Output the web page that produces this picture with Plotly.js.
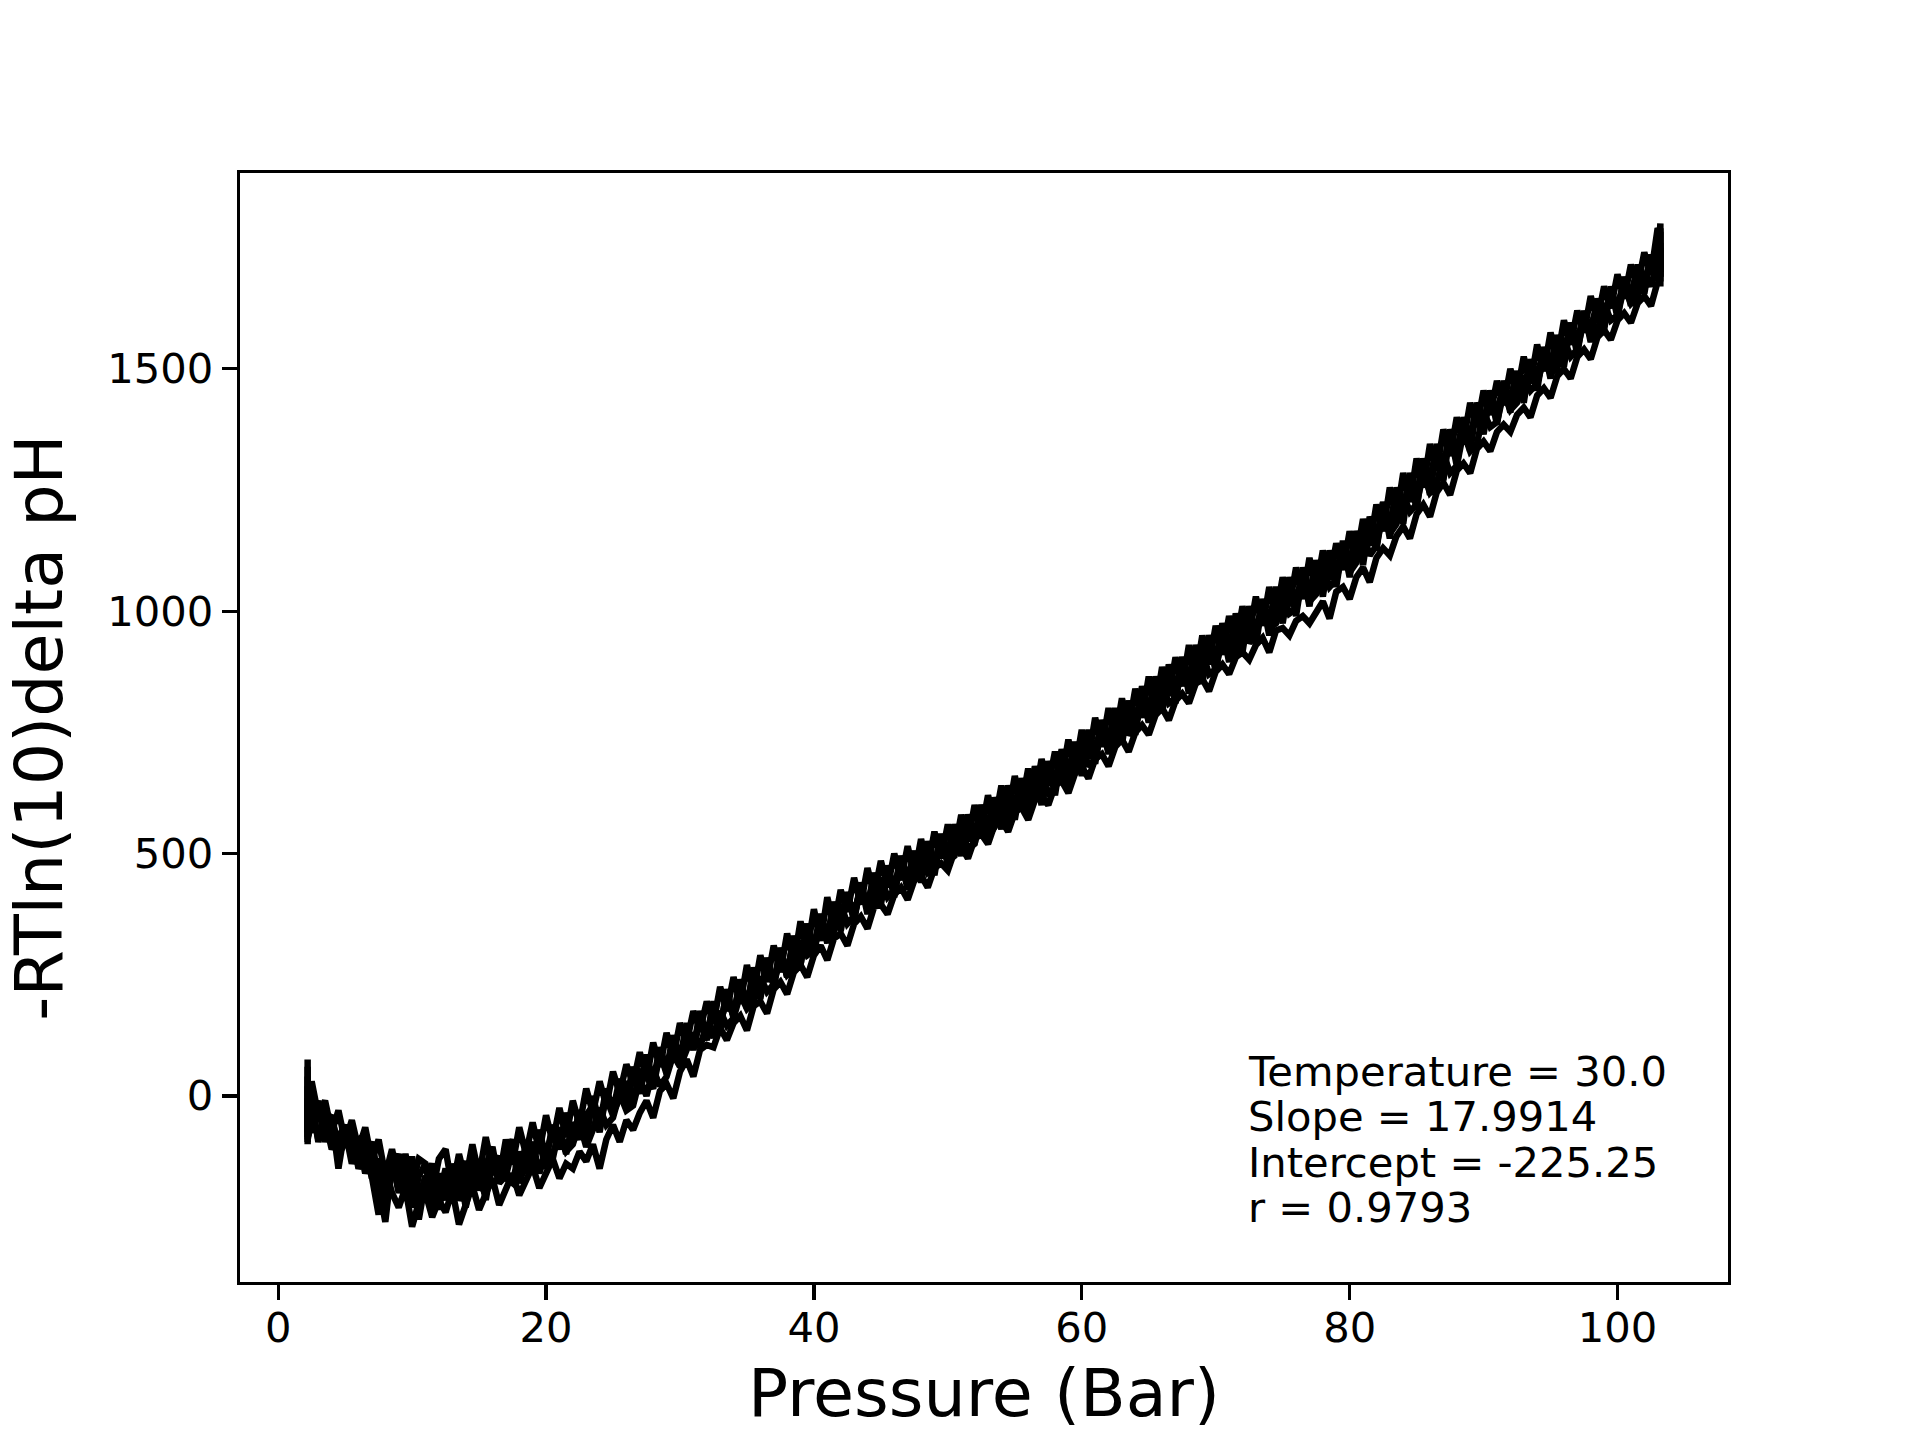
<!DOCTYPE html>
<html>
<head>
<meta charset="utf-8">
<script src="https://cdn.plot.ly/plotly-3.0.1.min.js"></script>
<style>
  html, body { margin: 0; padding: 0; background: #fff; }
  #chart { width: 1920px; height: 1440px; }
</style>
</head>
<body>
<div id="chart"></div>
<script>
// pressure readings shared by every run (Bar)
const pressure = [
  2.2, 2.2, 2.2,
  2.5, 3, 3.5, 4, 4.5, 5, 5.5, 6, 6.5, 7,
  7.5, 8, 8.5, 9, 9.5, 10, 10.5, 11, 11.5, 12,
  12.5, 13, 13.5, 14, 14.5, 15, 15.5, 16, 16.5, 17,
  17.5, 18, 18.5, 19, 19.5, 20, 20.5, 21, 21.5, 22,
  22.5, 23, 23.5, 24, 24.5, 25, 25.5, 26, 26.5, 27,
  27.5, 28, 28.5, 29, 29.5, 30, 30.5, 31, 31.5, 32,
  32.5, 33, 33.5, 34, 34.5, 35, 35.5, 36, 36.5, 37,
  37.5, 38, 38.5, 39, 39.5, 40, 40.5, 41, 41.5, 42,
  42.5, 43, 43.5, 44, 44.5, 45, 45.5, 46, 46.5, 47,
  47.5, 48, 48.5, 49, 49.5, 50, 50.5, 51, 51.5, 52,
  52.5, 53, 53.5, 54, 54.5, 55, 55.5, 56, 56.5, 57,
  57.5, 58, 58.5, 59, 59.5, 60, 60.5, 61, 61.5, 62,
  62.5, 63, 63.5, 64, 64.5, 65, 65.5, 66, 66.5, 67,
  67.5, 68, 68.5, 69, 69.5, 70, 70.5, 71, 71.5, 72,
  72.5, 73, 73.5, 74, 74.5, 75, 75.5, 76, 76.5, 77,
  77.5, 78, 78.5, 79, 79.5, 80, 80.5, 81, 81.5, 82,
  82.5, 83, 83.5, 84, 84.5, 85, 85.5, 86, 86.5, 87,
  87.5, 88, 88.5, 89, 89.5, 90, 90.5, 91, 91.5, 92,
  92.5, 93, 93.5, 94, 94.5, 95, 95.5, 96, 96.5, 97,
  97.5, 98, 98.5, 99, 99.5, 100, 100.5, 101, 101.5, 102,
  102.5, 103,
  103.2, 103.2
];

// -RT ln(10) delta pH, one array per run
const run1 = [
  75, -40, -85,
  -60, -20, -95, -40, -110, -70, -140, -95, -105, -170,
  -130, -215, -150, -120, -200, -160, -255, -175, -140, -210,
  -150, -220, -170, -135, -205, -150, -190, -120, -170, -135,
  -95, -160, -110, -145, -80, -125, -70, -110, -50, -95,
  -30, -80, -10, -55, -5, -40, 20, -25, 45, 5,
  70, 25, 90, 45, 120, 75, 140, 95, 165, 120,
  190, 140, 215, 165, 240, 185, 260, 205, 280, 230,
  305, 245, 330, 270, 355, 300, 375, 320, 400, 345,
  420, 365, 440, 390, 460, 410, 475, 425, 495, 445,
  505, 460, 525, 475, 540, 490, 560, 505, 580, 530,
  600, 545, 615, 565, 640, 585, 655, 600, 680, 625,
  690, 640, 715, 660, 730, 680, 755, 700, 775, 725,
  800, 740, 815, 765, 845, 790, 865, 810, 890, 835,
  905, 855, 930, 880, 950, 895, 975, 915, 995, 940,
  1010, 950, 1025, 975, 1050, 995, 1070, 1010, 1090, 1030,
  1105, 1050, 1125, 1065, 1145, 1085, 1165, 1110, 1195, 1140,
  1225, 1165, 1255, 1200, 1285, 1230, 1315, 1260, 1345, 1290,
  1375, 1320, 1400, 1350, 1430, 1385, 1455, 1400, 1475, 1425,
  1495, 1440, 1515, 1470, 1540, 1495, 1565, 1520, 1595, 1545,
  1615, 1570, 1640, 1595, 1665, 1620, 1685, 1645, 1705, 1665,
  1735, 1700,
  1800, 1700
];
const run2 = [
  20, -95, -50,
  -75, -30, -50, -110, -85, -60, -130, -100, -90, -160,
  -245, -150, -130, -195, -175, -140, -210, -165, -230, -180,
  -200, -160, -215, -190, -150, -175, -205, -145, -125, -170,
  -180, -115, -160, -135, -95, -150, -120, -80, -115, -100,
  -55, -105, -70, -25, -60, -45, 5, -30, -20, 35,
  0, 55, 20, 40, 85, 60, 95, 130, 100, 150,
  120, 175, 145, 160, 210, 180, 195, 245, 215, 230,
  285, 250, 265, 320, 290, 300, 360, 325, 340, 395,
  355, 370, 425, 390, 400, 450, 410, 425, 475, 440,
  445, 500, 460, 470, 525, 485, 495, 555, 510, 520,
  580, 535, 555, 610, 570, 585, 640, 600, 610, 665,
  625, 635, 695, 650, 665, 725, 680, 695, 755, 710,
  725, 790, 745, 760, 820, 775, 790, 850, 810, 820,
  885, 840, 855, 915, 870, 880, 945, 905, 915, 980,
  935, 950, 1005, 965, 975, 1035, 995, 1005, 1065, 1020,
  1035, 1090, 1050, 1065, 1120, 1080, 1100, 1160, 1115, 1135,
  1200, 1160, 1180, 1240, 1205, 1220, 1285, 1245, 1260, 1325,
  1285, 1300, 1370, 1330, 1345, 1410, 1380, 1390, 1450, 1415,
  1430, 1485, 1455, 1470, 1520, 1490, 1500, 1560, 1525, 1540,
  1600, 1565, 1575, 1635, 1600, 1610, 1670, 1635, 1650, 1700,
  1670, 1720,
  1760, 1680
];
const run3 = [
  -5, -100, -70,
  -20, -90, -60, -40, -120, -100, -75, -150, -120, -95,
  -175, -150, -200, -230, -190, -270, -220, -200, -250, -215,
  -240, -195, -265, -220, -185, -235, -200, -170, -225, -190,
  -160, -205, -175, -145, -190, -160, -130, -170, -140, -150,
  -115, -135, -100, -150, -90, -60, -95, -50, -70, -35,
  -10, -45, 10, 25, -5, 50, 75, 40, 95, 105,
  100, 140, 115, 150, 165, 135, 185, 195, 170, 220,
  235, 210, 255, 270, 245, 290, 310, 280, 325, 335,
  310, 355, 370, 345, 390, 395, 375, 415, 430, 405,
  445, 455, 430, 470, 480, 465, 505, 515, 490, 530,
  540, 520, 560, 570, 545, 585, 595, 570, 610, 620,
  600, 640, 650, 625, 665, 680, 655, 695, 705, 680,
  720, 735, 710, 750, 765, 745, 785, 800, 775, 815,
  830, 810, 850, 860, 835, 875, 890, 870, 905, 915,
  900, 930, 945, 915, 960, 965, 950, 980, 990, 975,
  1000, 1020, 985, 1040, 1050, 1025, 1070, 1090, 1060, 1110,
  1130, 1115, 1155, 1175, 1150, 1200, 1220, 1195, 1245, 1265,
  1240, 1290, 1305, 1285, 1335, 1350, 1330, 1370, 1385, 1370,
  1405, 1420, 1400, 1445, 1460, 1440, 1485, 1500, 1480, 1525,
  1540, 1520, 1565, 1580, 1560, 1600, 1615, 1595, 1635, 1650,
  1630, 1680,
  1720, 1670
];
const run4 = [
  40, -30, -75,
  30, -40, -10, -75, -30, -95, -50, -110, -65, -135,
  -90, -165, -110, -175, -120, -185, -130, -140, -200, -130,
  -110, -190, -120, -175, -100, -165, -85, -150, -170, -90,
  -140, -65, -120, -55, -115, -40, -95, -25, -85, -10,
  -60, 15, -35, 30, -20, 50, 5, 65, 25, 90,
  35, 110, 60, 130, 80, 150, 110, 175, 135, 195,
  150, 225, 175, 245, 190, 270, 210, 290, 235, 310,
  255, 335, 275, 360, 300, 385, 320, 410, 350, 425,
  380, 450, 395, 470, 415, 485, 430, 500, 445, 515,
  455, 530, 470, 545, 490, 560, 505, 580, 525, 600,
  545, 620, 565, 640, 580, 660, 600, 675, 615, 695,
  640, 710, 655, 735, 675, 755, 695, 780, 720, 800,
  740, 820, 760, 840, 780, 865, 800, 885, 825, 905,
  845, 930, 865, 950, 890, 970, 910, 990, 930, 1010,
  950, 1030, 970, 1050, 990, 1070, 1010, 1090, 1025, 1110,
  1045, 1125, 1065, 1140, 1085, 1165, 1110, 1190, 1135, 1220,
  1165, 1255, 1195, 1285, 1225, 1315, 1255, 1345, 1290, 1375,
  1320, 1400, 1350, 1430, 1380, 1455, 1405, 1475, 1425, 1500,
  1450, 1525, 1470, 1550, 1495, 1575, 1520, 1600, 1550, 1620,
  1575, 1650, 1600, 1670, 1625, 1695, 1645, 1715, 1670, 1740,
  1695, 1790,
  1780, 1710
];
const run5 = [
  60, -70, -20,
  -10, -95, -35, -45, -150, -65, -100, -90, -160, -115,
  -185, -260, -140, -180, -210, -125, -215, -200, -145, -235,
  -160, -205, -140, -230, -165, -145, -215, -130, -180, -165,
  -110, -180, -135, -95, -160, -110, -130, -65, -120, -55,
  -90, -40, -20, -75, 5, -35, -5, 30, -15, 50,
  40, 15, 90, 55, 105, 70, 130, 100, 155, 115,
  175, 150, 200, 165, 230, 190, 240, 215, 275, 235,
  290, 255, 320, 290, 340, 310, 370, 330, 395, 350,
  410, 380, 425, 395, 450, 415, 460, 430, 485, 445,
  495, 460, 520, 480, 530, 505, 555, 525, 580, 540,
  590, 560, 615, 580, 635, 600, 650, 615, 670, 635,
  685, 650, 710, 670, 725, 690, 745, 715, 765, 735,
  790, 755, 810, 770, 830, 790, 850, 815, 875, 835,
  895, 855, 915, 880, 935, 900, 960, 920, 980, 945,
  995, 960, 1015, 980, 1035, 1000, 1060, 1020, 1075, 1040,
  1095, 1060, 1115, 1080, 1135, 1100, 1160, 1120, 1185, 1150,
  1215, 1180, 1245, 1215, 1270, 1245, 1300, 1275, 1335, 1300,
  1365, 1330, 1395, 1360, 1420, 1395, 1440, 1415, 1460, 1440,
  1490, 1460, 1515, 1485, 1540, 1510, 1565, 1535, 1590, 1560,
  1610, 1585, 1635, 1610, 1655, 1630, 1680, 1655, 1705, 1680,
  1725, 1710,
  1790, 1690
];
const run6 = [
  -20, -60, -90,
  -50, -10, -85, -45, -115, -60, -130, -85, -150, -100,
  -175, -215, -130, -200, -150, -230, -165, -140, -215, -160,
  -215, -140, -200, -165, -120, -195, -145, -105, -180, -120,
  -90, -165, -100, -145, -70, -130, -60, -110, -35, -95,
  -30, -90, 0, -60, 15, -30, 35, -10, 60, 5,
  85, 30, 100, 55, 125, 75, 150, 95, 175, 120,
  195, 135, 220, 160, 240, 180, 265, 200, 285, 225,
  305, 245, 330, 270, 355, 290, 375, 315, 400, 340,
  420, 360, 440, 375, 455, 395, 470, 410, 490, 425,
  505, 440, 520, 455, 540, 475, 560, 495, 580, 520,
  600, 535, 615, 550, 635, 570, 650, 585, 670, 600,
  690, 620, 710, 640, 730, 660, 750, 685, 775, 705,
  795, 725, 815, 745, 840, 770, 860, 790, 880, 810,
  905, 830, 925, 850, 945, 875, 965, 895, 985, 915,
  1005, 930, 1020, 950, 1040, 975, 1060, 990, 1080, 1010,
  1100, 1030, 1120, 1050, 1140, 1070, 1165, 1095, 1190, 1125,
  1225, 1150, 1250, 1180, 1280, 1210, 1310, 1240, 1340, 1270,
  1370, 1300, 1395, 1330, 1425, 1365, 1450, 1385, 1470, 1410,
  1495, 1430, 1520, 1455, 1545, 1480, 1570, 1505, 1595, 1530,
  1620, 1555, 1645, 1580, 1670, 1605, 1690, 1630, 1715, 1655,
  1735, 1690,
  1750, 1690
];

const runs = [run1, run2, run3, run4, run5, run6];

const xTicks = [0, 20, 40, 60, 80, 100];
const yTicks = [0, 500, 1000, 1500];

const fitLines = [
  'Temperature = 30.0',
  'Slope = 17.9914',
  'Intercept = -225.25',
  'r = 0.9793'
];

const traces = runs.map(run => ({
  x: pressure,
  y: run,
  type: 'scatter',
  mode: 'lines',
  line: { color: '#000000', width: 6.5 },
  hoverinfo: 'skip'
}));

// one annotation per text line, stacked like matplotlib's ax.text
const fitY = [0.190, 0.149, 0.108, 0.067];
const annotations = fitLines.map((txt, i) => ({
  text: txt,
  xref: 'paper',
  yref: 'paper',
  x: 0.676,
  y: fitY[i],
  xanchor: 'left',
  yanchor: 'middle',
  showarrow: false,
  font: { size: 41.67, color: '#000000' }
}));

const axisCommon = {
  showgrid: false,
  zeroline: false,
  showline: true,
  linecolor: '#000000',
  linewidth: 3.3,
  mirror: true,
  ticks: 'outside',
  ticklen: 15,
  tickwidth: 3.3,
  tickcolor: '#000000',
  tickfont: { size: 41.67, color: '#000000' }
};

const layout = {
  width: 1920,
  height: 1440,
  margin: { l: 240, r: 192, t: 173, b: 158, pad: 0 },
  paper_bgcolor: '#ffffff',
  plot_bgcolor: '#ffffff',
  font: { family: 'DejaVu Sans', color: '#000000' },
  showlegend: false,
  xaxis: Object.assign({}, axisCommon, {
    range: [-2.85, 108.25],
    tickvals: xTicks,
    ticktext: xTicks.map(String),
    ticklabelstandoff: -8,
    title: { text: 'Pressure (Bar)', font: { size: 66.67 }, standoff: 19 }
  }),
  yaxis: Object.assign({}, axisCommon, {
    range: [-384, 1904],
    tickvals: yTicks,
    ticktext: yTicks.map(String),
    ticklabelstandoff: 0,
    title: { text: '-RTln(10)delta pH', font: { size: 66.67 }, standoff: 32 }
  }),
  annotations: annotations
};

Plotly.newPlot('chart', traces, layout, { displayModeBar: false, staticPlot: true });
</script>
</body>
</html>
